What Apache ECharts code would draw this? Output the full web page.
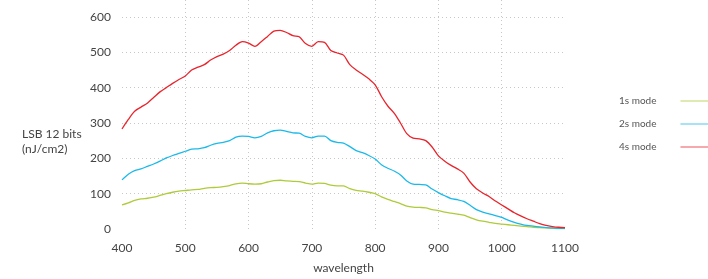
<!DOCTYPE html>
<html>
<head>
<meta charset="utf-8">
<script src="https://cdn.jsdelivr.net/npm/echarts@6/dist/echarts.min.js"></script>
<style>
  html, body { margin: 0; padding: 0; background: #fff; }
  #chart { width: 708px; height: 279px; }
</style>
</head>
<body>
<div id="chart"></div>
<script>
// wavelength, every 10 nm
const wavelengths = [400, 410, 420, 430, 440, 450, 460, 470, 480, 490,
  500, 510, 520, 530, 540, 550, 560, 570, 580, 590,
  600, 610, 620, 630, 640, 650, 660, 670, 680, 690,
  700, 710, 720, 730, 740, 750, 760, 770, 780, 790,
  800, 810, 820, 830, 840, 850, 860, 870, 880, 890,
  900, 910, 920, 930, 940, 950, 960, 970, 980, 990,
  1000, 1010, 1020, 1030, 1040, 1050, 1060, 1070, 1080, 1090, 1100]

const mode1s = [68, 74, 81, 85, 87, 90, 95, 100, 104, 107,
  109, 111, 112, 115, 117, 118, 120, 123, 128, 130,
  128, 127, 128, 133, 137, 138, 136, 135, 134, 130,
  127, 130, 129, 124, 122, 122, 114, 109, 107, 104,
  100, 91, 84, 78, 72, 65, 62, 61, 60, 55,
  52, 48, 45, 42, 39, 32, 26, 22, 19, 16,
  14, 12, 10, 8, 7, 5, 4, 3, 2, 1, 1]

const mode2s = [139, 155, 165, 170, 177, 184, 192, 201, 208, 214,
  220, 226, 227, 230, 237, 242, 245, 250, 260, 263,
  262, 258, 262, 272, 278, 280, 276, 272, 271, 262,
  258, 263, 263, 250, 245, 243, 233, 222, 216, 208,
  198, 182, 172, 164, 153, 136, 127, 126, 125, 113,
  103, 94, 86, 83, 78, 67, 55, 48, 43, 38,
  33, 25, 19, 14, 10, 8, 6, 4, 3, 2, 2]

const mode4s = [283, 310, 333, 345, 356, 372, 388, 400, 412, 423,
  433, 450, 458, 465, 478, 488, 495, 505, 520, 530,
  526, 517, 530, 545, 560, 562, 556, 547, 544, 525,
  517, 530, 528, 505, 498, 492, 465, 450, 438, 425,
  408, 375, 348, 328, 300, 270, 257, 255, 250, 232,
  207, 192, 180, 170, 158, 133, 114, 102, 92, 79,
  68, 57, 46, 37, 29, 22, 15, 10, 7, 5, 4]

const seriesNames = ['1s mode', '2s mode', '4s mode']
const seriesColors = ['#aecb3c', '#1bb9e9', '#e8242c']

const font = 'Lato, "Open Sans", sans-serif'
const grid = '#c8c8c8'

function pairs(vals) {
  return wavelengths.map((w, i) => [w, vals[i]])
}

const chart = echarts.init(document.getElementById('chart'))

const option = {
  animation: false,
  textStyle: { fontFamily: font },
  grid: { left: 122, right: 143, top: 0, bottom: 50 },
  legend: {
    orient: 'vertical',
    left: 614,
    top: 91,
    align: 'right',
    itemWidth: 28,
    itemHeight: 10,
    itemGap: 13,
    data: seriesNames.map((n, i) => ({
      name: n,
      icon: 'path://M0,4.4 L28,4.4 L28,5.6 L0,5.6 Z',
      itemStyle: { color: seriesColors[i], opacity: 0.65 }
    })),
    textStyle: { color: '#555', fontSize: 10, padding: [0, 19, 0, 0], fontFamily: font }
  },
  graphic: [{
    type: 'text',
    left: 22,
    top: 127,
    style: {
      text: 'LSB 12 bits\n(nJ/cm2)',
      fill: '#444',
      font: '12px ' + font,
      lineHeight: 15
    }
  }],
  xAxis: {
    type: 'value',
    min: 400,
    max: 1100,
    interval: 100,
    name: 'wavelength',
    nameLocation: 'middle',
    nameGap: 33,
    nameTextStyle: { color: '#444', fontSize: 12 },
    axisLine: { show: false },
    axisTick: { show: false },
    axisLabel: { color: '#444', fontSize: 12, margin: 13, formatter: v => String(v) },
    splitLine: {
      show: true,
      lineStyle: {
        type: [1, 3],
        color: ['transparent', grid, grid, grid, grid, grid, grid, 'transparent']
      }
    }
  },
  yAxis: {
    type: 'value',
    min: 0,
    max: 648,
    interval: 100,
    axisLine: { show: false },
    axisTick: { show: false },
    axisLabel: { color: '#444', fontSize: 12, margin: 11, showMaxLabel: false },
    splitLine: {
      show: true,
      lineStyle: {
        type: [1, 3],
        color: ['transparent', grid, grid, grid, grid, grid, grid, 'transparent']
      }
    }
  },
  series: [mode1s, mode2s, mode4s].map((vals, i) => ({
    name: seriesNames[i],
    type: 'line',
    data: pairs(vals),
    symbol: 'none',
    smooth: 0.3,
    lineStyle: { width: 1.3, color: seriesColors[i] },
    itemStyle: { color: seriesColors[i] }
  }))
}

chart.setOption(option)
</script>
</body>
</html>
